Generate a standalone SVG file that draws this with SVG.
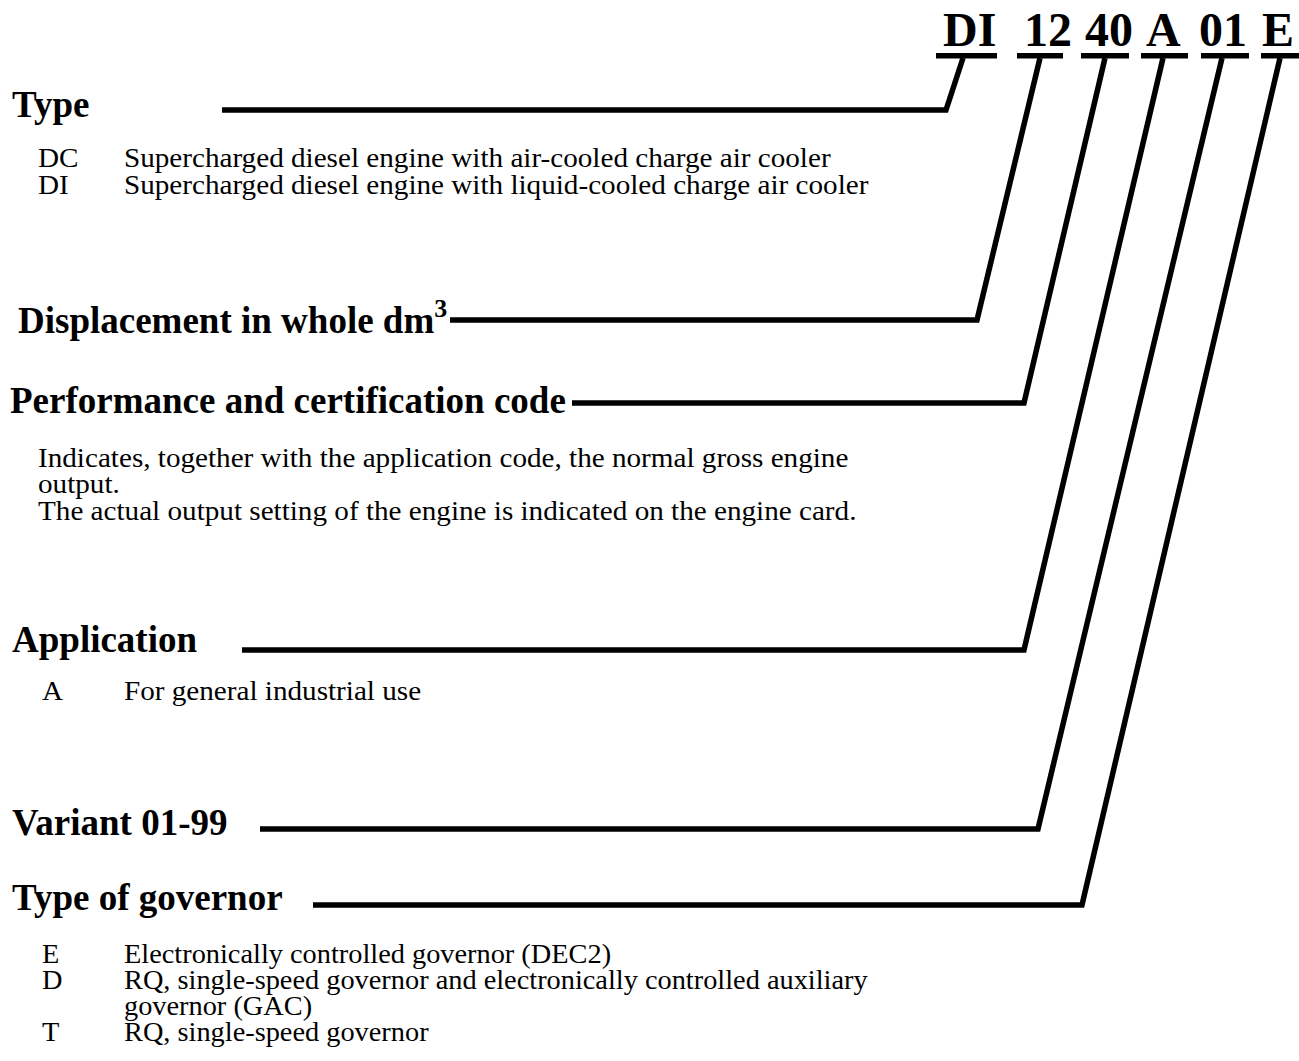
<svg xmlns="http://www.w3.org/2000/svg" width="1299" height="1061" viewBox="0 0 1299 1061">
<style>
.h{font-family:"Liberation Serif","Times New Roman",serif;font-weight:bold;font-size:37px;fill:#000}
.code{font-family:"Liberation Serif","Times New Roman",serif;font-weight:bold;font-size:48px;fill:#000}
.b{font-family:"Liberation Serif","Times New Roman",serif;font-size:27px;fill:#000}
.ul{fill:#000}
.ld{fill:none;stroke:#000;stroke-width:5.5;stroke-linejoin:miter;stroke-linecap:butt}
</style>
<rect width="1299" height="1061" fill="#fff"/>
<g id="code">
<text class="code" x="943" y="46">DI</text>
<text class="code" x="1024" y="46">12</text>
<text class="code" x="1085" y="46">40</text>
<text class="code" x="1146" y="46">A</text>
<text class="code" x="1199" y="46">01</text>
<text class="code" x="1262" y="46">E</text>
<rect class="ul" x="936" y="53" width="61" height="5.5"/>
<rect class="ul" x="1017" y="53" width="46" height="5.5"/>
<rect class="ul" x="1081" y="53" width="48" height="5.5"/>
<rect class="ul" x="1141" y="53" width="47" height="5.5"/>
<rect class="ul" x="1201" y="53" width="48" height="5.5"/>
<rect class="ul" x="1261" y="53" width="38" height="5.5"/>
</g>
<g id="connectors">
<polyline class="ld" points="963,58 946,110 222,110"/>
<polyline class="ld" points="1040,58 977,320 450,320"/>
<polyline class="ld" points="1105,58 1024,403 572,403"/>
<polyline class="ld" points="1163,58 1024,650 242,650"/>
<polyline class="ld" points="1222,58 1038,829 260,829"/>
<polyline class="ld" points="1280,58 1082,905 313,905"/>
</g>
<g id="type">
<text class="h" x="12" y="117">Type</text>
<g transform="scale(1.08,1)">
<text class="b" x="35.2" y="167">DC</text>
<text class="b" x="114.8" y="167">Supercharged diesel engine with air-cooled charge air cooler</text>
<text class="b" x="35.2" y="194">DI</text>
<text class="b" x="114.8" y="194">Supercharged diesel engine with liquid-cooled charge air cooler</text>
</g>
</g>
<g id="displacement">
<text class="h" x="18" y="333">Displacement in whole dm<tspan font-size="26" dy="-16">3</tspan></text>
</g>
<g id="performance">
<text class="h" x="10" y="413">Performance and certification code</text>
<g transform="scale(1.08,1)">
<text class="b" x="35.2" y="467">Indicates, together with the application code, the normal gross engine</text>
<text class="b" x="35.2" y="493">output.</text>
<text class="b" x="35.2" y="520">The actual output setting of the engine is indicated on the engine card.</text>
</g>
</g>
<g id="application">
<text class="h" x="12" y="652">Application</text>
<g transform="scale(1.08,1)">
<text class="b" x="38.9" y="700">A</text>
<text class="b" x="114.8" y="700">For general industrial use</text>
</g>
</g>
<g id="variant">
<text class="h" x="12" y="835">Variant 01-99</text>
</g>
<g id="governor">
<text class="h" x="12" y="910">Type of governor</text>
<g transform="scale(1.05,1)">
<text class="b" x="40" y="963">E</text>
<text class="b" x="118.1" y="963">Electronically controlled governor (DEC2)</text>
<text class="b" x="40" y="989">D</text>
<text class="b" x="118.1" y="989">RQ, single-speed governor and electronically controlled auxiliary</text>
<text class="b" x="118.1" y="1015">governor (GAC)</text>
<text class="b" x="40" y="1041">T</text>
<text class="b" x="118.1" y="1041">RQ, single-speed governor</text>
</g>
</g>
</svg>
